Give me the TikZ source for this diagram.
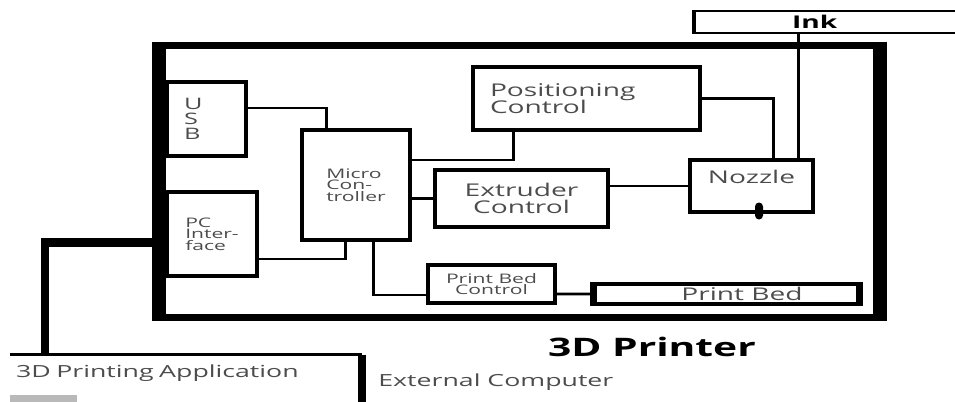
\documentclass[tikz,border=0pt]{standalone}
\usepackage{fontspec}
\setmainfont{Open Sans}[FakeStretch=1.6]

\begin{document}
\begin{tikzpicture}[
    block/.style={rectangle, draw, line width=0.065cm, inner sep=0pt, align=center, text=black!70, font=\fontsize{10}{10}\selectfont},
    smalltext/.style={font=\fontsize{7.5}{6.5}\selectfont},
    frame/.style={rectangle, draw, line width=0.14cm, inner sep=0pt, outer sep=0pt},
    wire/.style={line width=0.055cm},
    bus/.style={line width=0.18cm}
]
\clip (0,0) rectangle (19.1,-8.02);

% printer housing
\node[frame, minimum width=14.42cm, minimum height=5.44cm] (printer) at (10.39,-3.62) {};
\draw[line width=0.28cm] ([yshift=0.07cm]printer.north west) -- ([yshift=-0.07cm]printer.south west);
\draw[line width=0.28cm] ([yshift=0.07cm]printer.north east) -- ([yshift=-0.07cm]printer.south east);

\node[block, minimum width=1.58cm, minimum height=1.48cm, text width=0.9cm, inner xsep=0.34cm, align=left, font=\fontsize{9}{8.5}\selectfont] (usb) at (4.13,-2.38) {U\\S\\B};
\node[block, smalltext, minimum width=1.80cm, minimum height=1.68cm, align=left] (pc) at (4.24,-4.68) {PC\\Inter-\\face};
\node[block, smalltext, minimum width=2.16cm, minimum height=2.20cm, align=left] (micro) at (7.12,-3.70) {Micro\\Con-\\troller};
\node[block, minimum width=4.54cm, minimum height=1.26cm, text width=3.86cm, inner xsep=0.34cm, align=left] (pos) at (11.73,-1.97) {Positioning\\Control};
\node[block, minimum width=3.46cm, minimum height=1.14cm] (ext) at (10.43,-3.97) {Extruder\\Control};
\node[block, minimum width=2.46cm, minimum height=1.04cm, text depth=0.35cm] (noz) at (15.03,-3.72) {Nozzle};
\node[fill, rounded corners=0.08cm, minimum width=0.16cm, minimum height=0.34cm, inner sep=0pt] (tip) at (15.18,-4.22) {};
\node[block, smalltext, minimum width=2.54cm, minimum height=0.76cm] (bedctl) at (9.83,-5.68) {Print Bed\\Control};
\node[block, minimum width=5.26cm, minimum height=0.40cm] (bed) at (14.53,-5.88) {\hspace*{0.62cm}Print Bed};
\draw[line width=0.14cm] (bed.north west) -- (bed.south west);
\draw[line width=0.14cm] (bed.north east) -- (bed.south east);

% outside the printer
\node[block, line width=0.04cm, minimum width=5.6cm, minimum height=0.44cm, text width=1.72cm, inner xsep=1.94cm, align=left, text=black, font=\bfseries\fontsize{10}{12}\selectfont] (ink) at (16.70,-0.44) {Ink};
\draw[line width=0.09cm] (ink.north west) -- (ink.south west);
\node[minimum width=7.04cm, minimum height=0.72cm, text width=6.8cm, inner xsep=0.12cm, align=left, text=black!70, font=\fontsize{9.5}{11}\selectfont] (app) at (3.72,-7.46) {3D Printing Application};
\draw[line width=0.07cm] (app.north west) -- (app.north east);
\draw[line width=0.16cm] (app.north east) -- ++(0,-1);
\fill[gray!55] (0.2,-7.9) rectangle (1.54,-8.2);
\node[font=\bfseries\fontsize{14.5}{16}\selectfont] (title) at (13.04,-6.94) {3D Printer};
\node[anchor=west, inner sep=0pt, text=black!70, font=\fontsize{9.5}{11}\selectfont] (extcomp) at (7.56,-7.64) {External Computer};

% connections
\draw[wire] ([yshift=0.22cm]usb.east) -| ([xshift=0.52cm]micro.north west);
\draw[wire] ([yshift=-0.5cm]pc.east) -| ([xshift=0.9cm]micro.south west);
\draw[wire] ([xshift=1.46cm]micro.south west) |- ([yshift=-0.22cm]bedctl.west);
\draw[wire] ([yshift=-0.2cm]bedctl.east) -- (bed.west);
\draw[wire] ([yshift=0.5cm]micro.east) -| ([xshift=0.84cm]pos.south west);
\draw[wire] (micro.east |- ext.west) -- (ext.west);
\draw[wire] (ext.east |- noz.west) -- (noz.west);
\draw[wire] (pos.east) -| ([xshift=1.7cm]noz.north west);
\draw[wire] ([xshift=2.2cm]noz.north west) coordinate (feed) -- (feed |- ink.south);
\coordinate (busfoot) at (0.9,-7.1);
\draw[bus] (busfoot) |- ([yshift=-1.22cm]printer.west);
\end{tikzpicture}
\end{document}
